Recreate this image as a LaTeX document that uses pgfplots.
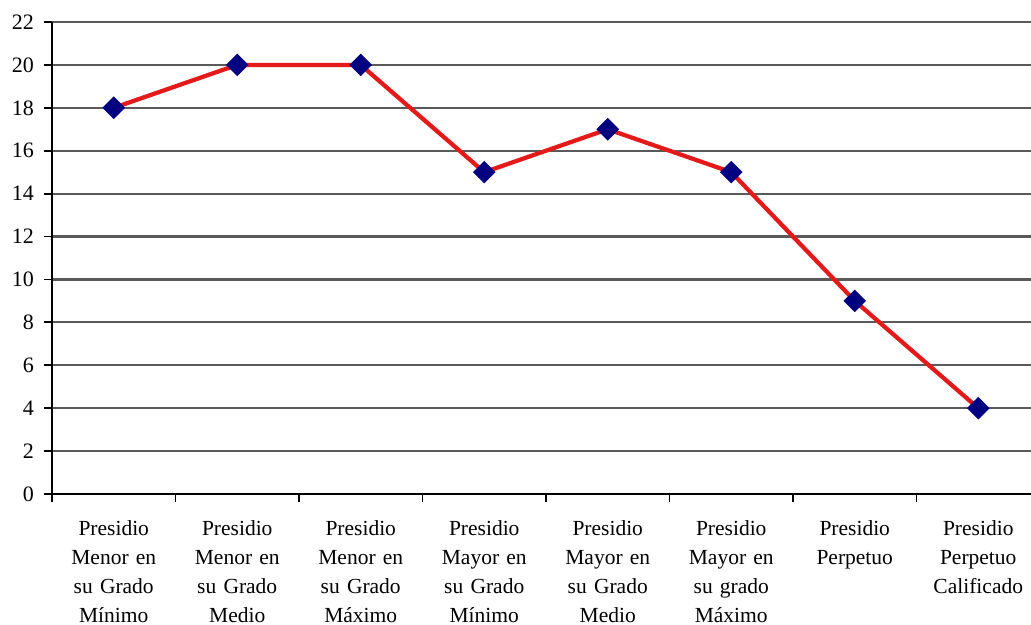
\documentclass[border=0pt]{standalone}
\usepackage{pgfplots}
\pgfplotsset{compat=1.18}
\usepackage{fontspec}
\setmainfont{Liberation Serif}
\definecolor{gridgray}{HTML}{5A5A5A}
\definecolor{linered}{HTML}{E41A1A}
\definecolor{marknavy}{HTML}{000080}
\begin{document}
\begin{tikzpicture}[x=0.4pt,y=0.4pt]
\useasboundingbox (-52,-131) rectangle (979,494);
\clip (-52,-131) rectangle (979,494);
\begin{axis}[
  at={(0,0)}, anchor=south west,
  scale only axis,
  width=395.2pt, height=188.8pt,
  xmin=-0.5, xmax=7.5,
  ymin=0, ymax=22,
  ytick={0,2,...,22},
  xtick={-0.5,0.5,...,7.5},
  x tick label as interval,
  xticklabels={
    {Presidio\\Menor en\\su Grado\\Mínimo},
    {Presidio\\Menor en\\su Grado\\Medio},
    {Presidio\\Menor en\\su Grado\\Máximo},
    {Presidio\\Mayor en\\su Grado\\Mínimo},
    {Presidio\\Mayor en\\su Grado\\Medio},
    {Presidio\\Mayor en\\su grado\\Máximo},
    {Presidio\\Perpetuo},
    {Presidio\\Perpetuo\\Calificado}},
  axis lines=left,
  axis line style={black, line width=0.9pt, -},
  ymajorgrids,
  major grid style={gridgray, line width=0.9pt},
  tick style={black, line width=0.7pt},
  tick align=outside,
  major tick length=3.2pt,
  x tick label style={align=center, text width=46pt, anchor=north,
    yshift=-4pt, font=\fontsize{8.6}{11.6}\selectfont},
  y tick label style={font=\fontsize{8.8}{10}\selectfont, xshift=-0.5pt},
  /pgf/number format/assume math mode=true,
  clip=false,
]
\addplot[linered, line width=1.7pt, mark=square*, mark size=3.0pt,
  mark options={fill=marknavy, draw=marknavy, line width=0.4pt, rotate=45}]
  coordinates {(0,18) (1,20) (2,20) (3,15) (4,17) (5,15) (6,9) (7,4)};
\end{axis}
\end{tikzpicture}
\end{document}
